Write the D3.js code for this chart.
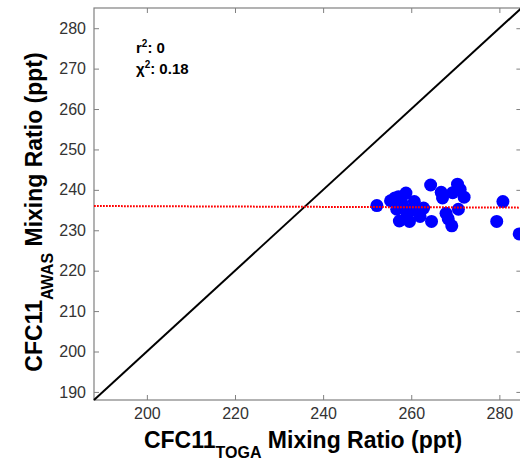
<!DOCTYPE html>
<html>
<head>
<meta charset="utf-8">
<script src="https://cdn.jsdelivr.net/npm/d3@7"></script>
<style>
  html, body { margin: 0; padding: 0; background: #fff; }
  svg { display: block; }
  text { font-family: "Liberation Sans", Arial, Helvetica, sans-serif; }
</style>
</head>
<body>
<svg id="chart" width="520" height="462"></svg>
<script>
// ---- data ----
const togaX = [252.2, 255.3, 257.1, 258.8, 260.7, 256.7, 259.0, 262.8, 262.0, 257.3,
               259.6, 264.4, 264.6, 266.8, 267.1, 267.9, 268.4, 269.2, 269.4, 270.5,
               271.1, 272.0, 270.7, 280.8, 279.4, 284.5, 257.8, 258.2, 260.1, 256.3];
const awasY = [236.1, 237.3, 238.3, 239.2, 237.1, 235.2, 234.4, 235.5, 233.4, 232.3,
               232.2, 241.2, 232.2, 239.4, 238.0, 234.2, 232.8, 231.1, 239.3, 241.4,
               240.1, 238.2, 235.2, 237.1, 232.2, 229.1, 237.1, 235.8, 235.0, 238.0];
const fitX = [188, 285];
const fitY = [236.0, 235.6];
const oneToOne = [188, 285];
const xTicks = [200, 220, 240, 260, 280];
const yTicks = [190, 200, 210, 220, 230, 240, 250, 260, 270, 280];
const statsLabels = ["r", "χ"];
const statsValues = ["0", "0.18"];

// ---- layout ----
const svg = d3.select("#chart");
const x = d3.scaleLinear().domain([188, 285]).range([94, 521.4]);
const y = d3.scaleLinear().domain([188, 285]).range([400, 8]);
const axisColor = "#808080";
const pLeft = x(188), pRight = x(285), pTop = y(285), pBottom = y(188);

// frame
svg.append("rect").attr("x", pLeft).attr("y", pTop)
  .attr("width", pRight - pLeft).attr("height", pBottom - pTop)
  .attr("fill", "none").attr("stroke", axisColor).attr("stroke-width", 1.2);

function styleAxis(g, showLabels) {
  g.select(".domain").remove();
  g.selectAll(".tick line").attr("stroke", axisColor).attr("stroke-width", 1);
  g.selectAll(".tick text")
    .attr("fill", "#333")
    .style("font-size", "16px")
    .style("display", showLabels ? null : "none");
}

svg.append("g").attr("transform", `translate(0,${pBottom})`)
  .call(d3.axisBottom(x).tickValues(xTicks).tickSizeInner(-5).tickSizeOuter(0).tickPadding(8))
  .call(g => styleAxis(g, true));
svg.append("g").attr("transform", `translate(0,${pTop})`)
  .call(d3.axisTop(x).tickValues(xTicks).tickSizeInner(-5).tickSizeOuter(0))
  .call(g => styleAxis(g, false));
svg.append("g").attr("transform", `translate(${pLeft},0)`)
  .call(d3.axisLeft(y).tickValues(yTicks).tickSizeInner(-5).tickSizeOuter(0).tickPadding(8))
  .call(g => styleAxis(g, true));
svg.append("g").attr("transform", `translate(${pRight},0)`)
  .call(d3.axisRight(y).tickValues(yTicks).tickSizeInner(-5).tickSizeOuter(0))
  .call(g => styleAxis(g, false));

// 1:1 line
svg.append("line")
  .attr("x1", x(oneToOne[0])).attr("y1", y(oneToOne[0]))
  .attr("x2", x(oneToOne[1])).attr("y2", y(oneToOne[1]))
  .attr("stroke", "#000").attr("stroke-width", 2);

// points
svg.append("g").selectAll("circle")
  .data(togaX.map((v, i) => [v, awasY[i]]))
  .join("circle")
  .attr("cx", d => x(d[0])).attr("cy", d => y(d[1]))
  .attr("r", 6.5).attr("fill", "#0000ff");

// fit line (red dotted)
svg.append("line")
  .attr("x1", x(fitX[0])).attr("y1", y(fitY[0]))
  .attr("x2", x(fitX[1])).attr("y2", y(fitY[1]))
  .attr("stroke", "#ff0000").attr("stroke-width", 2)
  .attr("stroke-dasharray", "1.8,1.2");

// stats annotation
statsLabels.forEach((lab, i) => {
  const t = svg.append("text")
    .attr("x", 136).attr("y", 53 + i * 21)
    .attr("font-weight", "bold").attr("font-size", 15).attr("fill", "#000");
  t.append("tspan").text(lab);
  t.append("tspan").attr("dy", -6).attr("font-size", 10).text("2");
  t.append("tspan").attr("dy", 6).text(": " + statsValues[i]);
});

// x title
const xt = svg.append("text")
  .attr("x", 303).attr("y", 448)
  .attr("text-anchor", "middle")
  .attr("font-weight", "bold").attr("font-size", 23).attr("fill", "#000");
xt.append("tspan").text("CFC11");
xt.append("tspan").attr("dy", 10).attr("font-size", 16).text("TOGA");
xt.append("tspan").attr("dy", -10).text(" Mixing Ratio (ppt)");

// y title
const yt = svg.append("text")
  .attr("transform", "translate(42,212) rotate(-90)")
  .attr("text-anchor", "middle")
  .attr("font-weight", "bold").attr("font-size", 23).attr("fill", "#000");
yt.append("tspan").text("CFC11");
yt.append("tspan").attr("dy", 11).attr("font-size", 16).text("AWAS");
yt.append("tspan").attr("dy", -11).text(" Mixing Ratio (ppt)");
</script>
</body>
</html>
